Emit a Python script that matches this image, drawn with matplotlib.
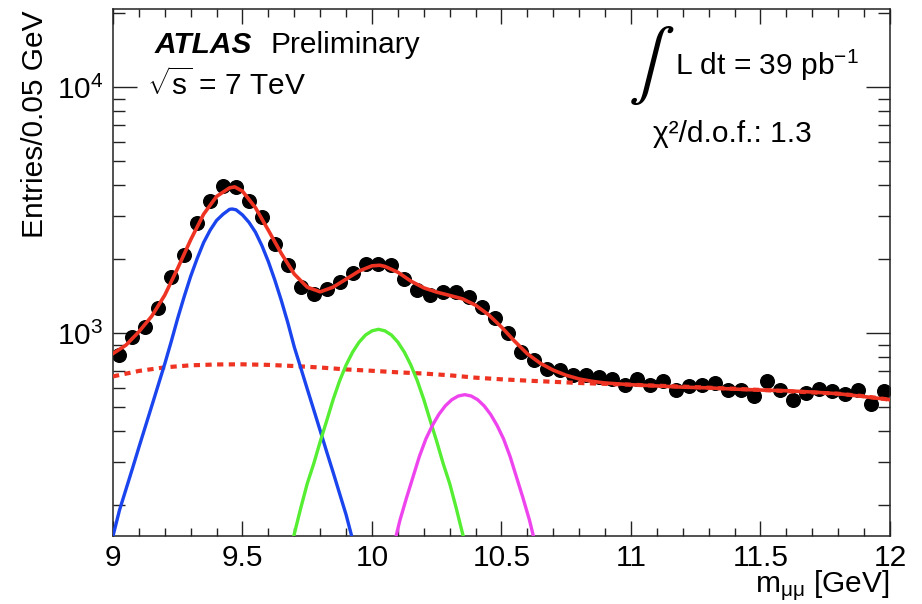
import matplotlib
matplotlib.use('Agg')
import matplotlib.pyplot as plt
from matplotlib.ticker import LogLocator, NullFormatter, MultipleLocator

plt.rcParams['font.family'] = ['Liberation Sans', 'DejaVu Sans']
plt.rcParams['mathtext.fontset'] = 'custom'
plt.rcParams['mathtext.rm'] = 'Liberation Sans'
plt.rcParams['mathtext.it'] = 'Liberation Sans:italic'
plt.rcParams['mathtext.bf'] = 'Liberation Sans:bold'
plt.rcParams['font.size'] = 21.5

# data: entries per 0.05 GeV bin
bin_centers = [9.025, 9.075, 9.125, 9.175, 9.225, 9.275, 9.325, 9.375, 9.425, 9.475,
               9.525, 9.575, 9.625, 9.675, 9.725, 9.775, 9.825, 9.875, 9.925, 9.975,
               10.025, 10.075, 10.125, 10.175, 10.225, 10.275, 10.325, 10.375, 10.425, 10.475,
               10.525, 10.575, 10.625, 10.675, 10.725, 10.775, 10.825, 10.875, 10.925, 10.975,
               11.025, 11.075, 11.125, 11.175, 11.225, 11.275, 11.325, 11.375, 11.425, 11.475,
               11.525, 11.575, 11.625, 11.675, 11.725, 11.775, 11.825, 11.875, 11.925, 11.975]
entries = [819, 966, 1061, 1267, 1693, 2075, 2818, 3440, 3975, 3936,
           3450, 2970, 2300, 1890, 1548, 1450, 1519, 1617, 1750, 1920,
           1907, 1890, 1668, 1496, 1427, 1472, 1472, 1405, 1280, 1158,
           1000, 839, 777, 718, 707, 675, 678, 664, 650, 615,
           655, 615, 640, 590, 609, 615, 628, 586, 590, 556,
           640, 590, 534, 572, 596, 581, 565, 586, 518, 583]

# total fit (red)
fit_x = [9.00, 9.05, 9.10, 9.15, 9.20, 9.25, 9.30, 9.35, 9.40, 9.45, 9.47, 9.50, 9.55,
         9.60, 9.65, 9.70, 9.75, 9.80, 9.85, 9.90, 9.95, 10.00, 10.03, 10.05, 10.10,
         10.15, 10.20, 10.25, 10.30, 10.35, 10.40, 10.45, 10.50, 10.55, 10.60, 10.65,
         10.70, 10.75, 10.80, 10.85, 10.90, 11.00, 11.10, 11.20, 11.30, 11.40, 11.50,
         11.60, 11.70, 11.80, 11.90, 12.00]
fit_y = [827, 895, 1015, 1175, 1430, 1840, 2400, 3050, 3600, 3900, 3936, 3780, 3240,
         2620, 2110, 1740, 1540, 1474, 1540, 1660, 1790, 1880, 1890, 1870, 1770,
         1630, 1530, 1470, 1425, 1380, 1300, 1190, 1060, 930, 825, 755,
         708, 675, 652, 638, 628, 618, 611, 604, 600, 593, 588,
         584, 577, 568, 553, 537]

# background (red dotted)
bkg_x = [9.0, 9.1, 9.2, 9.3, 9.4, 9.5, 9.6, 9.7, 9.8, 9.9, 10.0, 10.1, 10.2, 10.3,
         10.4, 10.5, 10.6, 10.7, 10.8, 10.9, 11.0, 11.2, 11.4, 11.6, 11.8, 11.9, 12.0]
bkg_y = [668, 703, 727, 741, 747, 748, 744, 736, 726, 713, 704, 694, 686, 675,
         660, 650, 642, 635, 628, 623, 618, 607, 595, 582, 568, 555, 537]

# Upsilon(1S) (blue)
y1s_x = [9.000, 9.025, 9.050, 9.075, 9.100, 9.125, 9.150, 9.175, 9.200, 9.225,
         9.250, 9.275, 9.300, 9.325, 9.350, 9.375, 9.400, 9.425, 9.450, 9.460,
         9.475, 9.500, 9.525, 9.550, 9.575, 9.600, 9.625, 9.650, 9.675, 9.700,
         9.725, 9.750, 9.775, 9.800, 9.825, 9.850, 9.875, 9.900, 9.920]
y1s_y = [150, 191, 232, 282, 344, 418, 508, 618, 752, 927,
         1153, 1411, 1706, 2014, 2339, 2624, 2877, 3048, 3190, 3200,
         3177, 3027, 2825, 2576, 2270, 1954, 1643, 1358, 1104, 879,
         723, 594, 489, 402, 330, 272, 223, 183, 152]

# Upsilon(2S) (green)
y2s_x = [9.698, 9.725, 9.750, 9.775, 9.800, 9.825, 9.850, 9.875, 9.900, 9.925,
         9.950, 9.975, 10.000, 10.025, 10.050, 10.075, 10.100, 10.125, 10.150,
         10.175, 10.200, 10.225, 10.250, 10.275, 10.300, 10.325, 10.352]
y2s_y = [150, 195, 245, 295, 363, 441, 538, 641, 743, 838,
         920, 984, 1023, 1038, 1023, 984, 920, 838, 743,
         641, 538, 441, 363, 295, 245, 195, 150]

# Upsilon(3S) (magenta)
y3s_x = [10.093, 10.108, 10.133, 10.158, 10.183, 10.208, 10.233, 10.258, 10.283,
         10.308, 10.333, 10.358, 10.383, 10.408, 10.433, 10.458, 10.483, 10.508,
         10.533, 10.558, 10.583, 10.608, 10.623]
y3s_y = [150, 174, 214, 260, 316, 372, 422, 468, 507,
         537, 556, 563, 556, 537, 507, 468, 422, 372,
         316, 260, 214, 174, 150]

x_ticks = [9, 9.5, 10, 10.5, 11, 11.5, 12]
x_tick_labels = ['9', '9.5', '10', '10.5', '11', '11.5', '12']

W, H = 922, 604
fig = plt.figure(figsize=(W / 100, H / 100), dpi=100)
ax = fig.add_axes([113 / W, 68 / H, 777 / W, 527 / H])

red = '#ee3322'
ax.plot(bin_centers, entries, 'o', color='black', ms=9.8, zorder=2)
ax.plot(bkg_x, bkg_y, color=red, lw=3.0, ls=(0, (1.5, 1.3)), zorder=3)
ax.plot(y1s_x, y1s_y, color='#1a44ee', lw=2.4, zorder=3, solid_joinstyle='round')
ax.plot(y2s_x, y2s_y, color='#55ee33', lw=2.4, zorder=3, solid_joinstyle='round')
ax.plot(y3s_x, y3s_y, color='#ee44ee', lw=2.4, zorder=3, solid_joinstyle='round')
ax.plot(fit_x, fit_y, color=red, lw=2.6, zorder=4, solid_joinstyle='round')

ax.set_yscale('log')
ax.set_xlim(9, 12)
ax.set_ylim(150, 20800)
ax.set_xticks(x_ticks, labels=x_tick_labels)
ax.xaxis.set_minor_locator(MultipleLocator(0.1))
ax.yaxis.set_minor_locator(LogLocator(base=10, subs=range(2, 10)))
ax.yaxis.set_minor_formatter(NullFormatter())

ax.tick_params(which='both', direction='in', top=True, right=True, width=1, color='#222222')
ax.tick_params(axis='x', which='major', length=11, pad=6)
ax.tick_params(axis='x', which='minor', length=5.5)
ax.tick_params(axis='y', which='major', length=17, pad=7)
ax.tick_params(axis='y', which='minor', length=8.5)
for s in ax.spines.values():
    s.set_linewidth(1.1)
    s.set_color('#222222')

fig.text(35 / W, 1 - 10 / H, 'Entries/0.05 GeV', rotation=90, ha='center', va='top')
fig.text(890 / W, 1 - 592 / H, r'm$_{\mathregular{μμ}}$ [GeV]', ha='right', va='baseline')

fig.text(155 / W, 1 - 53 / H, 'ATLAS', fontweight='bold', fontstyle='italic', va='baseline')
fig.text(270 / W, 1 - 53 / H, 'Preliminary', va='baseline')
fig.text(147 / W, 1 - 95 / H, r'$\sqrt{\mathregular{s}}$ = 7 TeV', va='baseline')

fig.text(628 / W, 1 - 66 / H, r'$\int$', math_fontfamily='stix', fontsize=50,
         ha='left', va='center')
fig.text(675 / W, 1 - 75 / H, r'L dt = 39 pb$^{\mathregular{-1}}$', va='baseline')
fig.text(653 / W, 1 - 142 / H, 'χ²/d.o.f.: 1.3', va='baseline')

fig.savefig('out.png', dpi=100)
